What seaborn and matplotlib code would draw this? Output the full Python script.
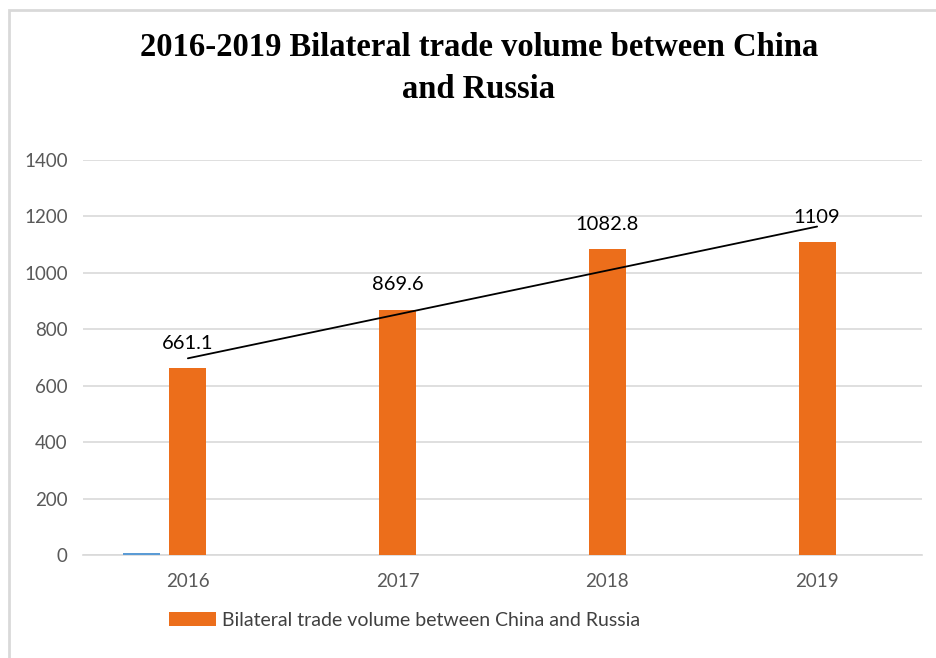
import numpy as np
import pandas as pd
import matplotlib
matplotlib.use("Agg")
import matplotlib.pyplot as plt
import matplotlib.patches as mpatches
import seaborn as sns

# Data
years = ["2016", "2017", "2018", "2019"]
trade_volume = [661.1, 869.6, 1082.8, 1109.0]
series1_values = [6.0, 0.0, 0.0, 0.0]
series3_values = [0.0, 0.0, 0.0, 0.0]
y_ticks = [0, 200, 400, 600, 800, 1000, 1200, 1400]

main_name = "Bilateral trade volume between China and Russia"
series_names = ["Series1", main_name, "Series3"]
series_colors = ["#5B9BD5", "#EC6E1B", "#A5A5A5"]

df = pd.DataFrame({
    "year": years * 3,
    "series": [series_names[0]] * 4 + [series_names[1]] * 4 + [series_names[2]] * 4,
    "value": series1_values + trade_volume + series3_values,
})

sns.set_theme(style="white")
plt.rcParams["font.family"] = ["Lato", "DejaVu Sans"]

W, H = 936, 658
fig = plt.figure(figsize=(W / 100, H / 100), dpi=100)
fig.patch.set_facecolor("white")

# chart-area frame
frame = mpatches.Rectangle((8.5 / W, -0.1), 2.0, (H - 10.5) / H + 0.1,
                           transform=fig.transFigure, fill=False,
                           edgecolor="#D9D9D9", linewidth=2.0, zorder=0)
fig.add_artist(frame)

left, right, top, bottom = 83, 922, 160, 555
ax = fig.add_axes([left / W, 1 - bottom / H, (right - left) / W, (bottom - top) / H])

sns.barplot(data=df, x="year", y="value", hue="series", hue_order=series_names,
            palette=series_colors, width=0.66, gap=0.2, ax=ax,
            legend=False, saturation=1, linewidth=0, zorder=3)

ax.set_ylim(0, 1400)
ax.set_yticks(y_ticks)
ax.set_xlim(-0.5, 3.5)
ax.grid(axis="y", color="#D9D9D9", linewidth=1.2, zorder=0)
ax.grid(axis="x", visible=False)
for s in ["left", "right", "top"]:
    ax.spines[s].set_visible(False)
ax.spines["bottom"].set_color("#D9D9D9")
ax.spines["bottom"].set_linewidth(1.2)
ax.set_xlabel("")
ax.set_ylabel("")
ax.tick_params(axis="both", length=0, labelsize=13.5, colors="#595959")
ax.tick_params(axis="x", pad=13)
ax.tick_params(axis="y", pad=11)

# Value labels above bars
xpos = np.arange(len(years))
for x, v in zip(xpos, trade_volume):
    ax.annotate(f"{v:g}", (x, v), xytext=(0, 18), textcoords="offset points",
                ha="center", va="center", fontsize=14.5, color="black", zorder=5)

# Linear trendline
coef = np.polyfit(xpos, trade_volume, 1)
ax.plot(xpos[[0, -1]], np.polyval(coef, xpos[[0, -1]]), color="black",
        linewidth=1.3, zorder=4)

# Title
fig.text(479 / W, 1 - 32 / H, "2016-2019 Bilateral trade volume between China\nand Russia",
         ha="center", va="top", fontsize=23.5, fontweight="bold",
         family=["Liberation Serif"], linespacing=1.45, color="black")

# Legend
handle = mpatches.Patch(facecolor=series_colors[1], edgecolor="none", label=main_name)
fig.legend(handles=[handle], loc="center left", bbox_to_anchor=(151 / W, 1 - 620 / H),
           frameon=False, fontsize=14, handlelength=2.45, handleheight=0.75,
           handletextpad=0.3, labelcolor="#404040")

fig.savefig("out.png", dpi=100, facecolor="white")
